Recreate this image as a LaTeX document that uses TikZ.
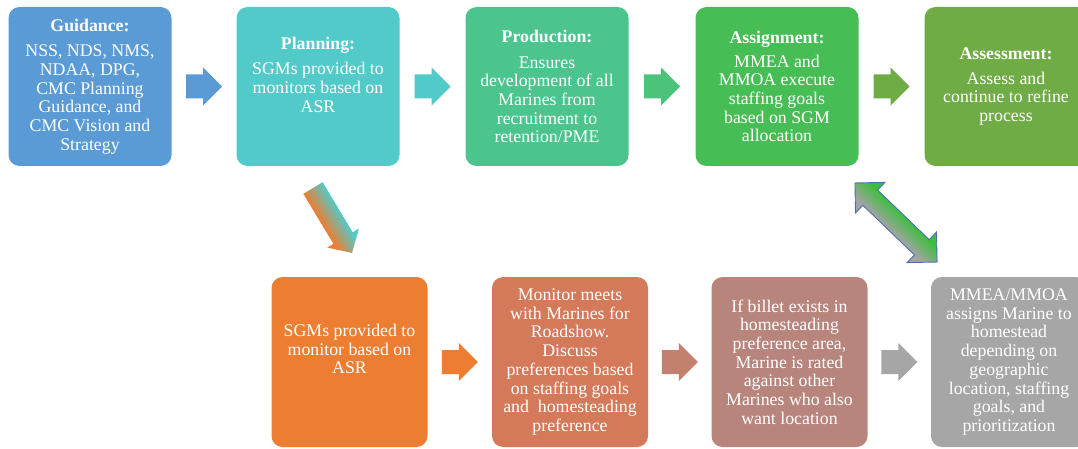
\documentclass[tikz,border=0pt]{standalone}
\usepackage{fontspec}
\setmainfont{Liberation Serif}
\usetikzlibrary{calc}
\definecolor{cGuid}{HTML}{5B9BD5}
\definecolor{cPlan}{HTML}{53CACA}
\definecolor{cProd}{HTML}{4BC48D}
\definecolor{cAssign}{HTML}{47BD55}
\definecolor{cAssess}{HTML}{6FAC46}
\definecolor{cSgm}{HTML}{ED7D31}
\definecolor{cMon}{HTML}{D47A5A}
\definecolor{cBil}{HTML}{B8857D}
\definecolor{cMme}{HTML}{A6A6A6}
\definecolor{aProd}{HTML}{4CC27A}
\definecolor{aMon}{HTML}{C4806F}
\definecolor{dGreen}{HTML}{3CBE3C}
\definecolor{dGray}{HTML}{A3A3A3}
\definecolor{dLine}{HTML}{4A6FB5}
\newcommand{\blockarrow}[2]{%
  \fill[#2, shift={(#1)}] (-18,-12) -- (-1,-12) -- (-1,-19) -- (18,0) -- (-1,19) -- (-1,12) -- (-18,12) -- cycle;}
\begin{document}
\begin{tikzpicture}[x=1pt,y=-1pt,
  boxtxt/.style={text=white, align=center, font=\fontsize{17.8}{18.7}\selectfont, inner sep=0pt},
  topbox/.style={boxtxt, rounded corners=11pt, minimum width=163pt, minimum height=159pt},
  botbox/.style={boxtxt, rounded corners=11pt, minimum width=156pt, minimum height=170pt}]
\clip (0,0) rectangle (1078,449);
% top row
\node[topbox, fill=cGuid] (g) at (90,86.5) {\textbf{Guidance:}\\[7pt]NSS, NDS, NMS,\\NDAA, DPG,\\CMC Planning\\Guidance, and\\CMC Vision and\\Strategy};
\node[topbox, fill=cPlan] (p) at (318,86.5) {};
\node[boxtxt] (pt) at (318,74.5) {\textbf{Planning:}\\[7pt]SGMs provided to\\monitors based on\\ASR};
\node[topbox, fill=cProd] (pr) at (547,86.5) {\textbf{Production:}\\[7pt]Ensures\\development of all\\Marines from\\recruitment to\\retention/PME};
\node[topbox, fill=cAssign] (as) at (777,86.5) {\textbf{Assignment:}\\[5pt]MMEA and\\MMOA execute\\staffing goals\\based on SGM\\allocation};
\node[topbox, fill=cAssess] (ae) at (1006,86.5) {\textbf{Assessment:}\\[6pt]Assess and\\continue to refine\\process};
% bottom row
\node[botbox, fill=cSgm] (s) at (349.5,362) {};
\node[boxtxt] (st) at (349.5,349) {SGMs provided to\\monitor based on\\ASR};
\node[botbox, fill=cMon] (m) at (570,362) {Monitor meets\\with Marines for\\Roadshow.\\Discuss\\preferences based\\on staffing goals\\and\ \ homesteading\\preference};
\node[botbox, fill=cBil] (b) at (789.5,362) {If billet exists in\\homesteading\\preference area,\\Marine is rated\\against other\\Marines who also\\want location};
\node[botbox, fill=cMme] (mm) at (1009,362) {MMEA/MMOA\\assigns Marine to\\homestead\\depending on\\geographic\\location, staffing\\goals, and\\prioritization};
% horizontal block arrows
\coordinate (a1) at ($(g.east)!.5!(p.west)$);
\coordinate (a2) at ($(p.east)!.5!(pr.west)$);
\coordinate (a3) at ($(pr.east)!.5!(as.west)$);
\coordinate (a4) at ($(as.east)!.5!(ae.west)$);
\coordinate (b1) at ($(s.east)!.5!(m.west)$);
\coordinate (b2) at ($(m.east)!.5!(b.west)$);
\coordinate (b3) at ($(b.east)!.5!(mm.west)$);
\blockarrow{a1}{cGuid}
\blockarrow{a2}{cPlan}
\blockarrow{a3}{aProd}
\blockarrow{a4}{cAssess}
\blockarrow{b1}{cSgm}
\blockarrow{b2}{aMon}
\blockarrow{b3}{cMme}
% diagonal arrow Planning -> SGMs
\begin{scope}[transform canvas={shift={(313,188)}, rotate=-59}]
  \clip (0,-11.1) -- (58.4,-11.1) -- (58.4,-18.5) -- (75.8,0) -- (58.4,18.5) -- (58.4,11.1) -- (0,11.1) -- cycle;
  \fill[cPlan] (-1,-20) rectangle (77,-10);
  \fill[cSgm] (-1,10) rectangle (77,20);
  \shade[top color=cPlan, bottom color=cSgm] (-1,-11.1) rectangle (77,11.1);
\end{scope}
% double arrow Assignment <-> MMEA/MMOA
\begin{scope}[transform canvas={shift={(896,222.5)}, rotate=-43.9}]
  \begin{scope}
    \clip (-57,0) -- (-35.8,-21.2) -- (-35.8,-10.6) -- (35.8,-10.6) -- (35.8,-21.2) -- (57,0)
      -- (35.8,21.2) -- (35.8,10.6) -- (-35.8,10.6) -- (-35.8,21.2) -- cycle;
    \fill[dGreen] (-58,-22) rectangle (58,-9);
    \fill[dGray] (-58,9) rectangle (58,22);
    \shade[top color=dGreen, bottom color=dGray] (-58,-10.6) rectangle (58,10.6);
  \end{scope}
  \draw[dLine, line width=0.9pt, line join=miter]
    (-57,0) -- (-35.8,-21.2) -- (-35.8,-10.6) -- (35.8,-10.6) -- (35.8,-21.2) -- (57,0)
    -- (35.8,21.2) -- (35.8,10.6) -- (-35.8,10.6) -- (-35.8,21.2) -- cycle;
\end{scope}
\end{tikzpicture}
\end{document}
